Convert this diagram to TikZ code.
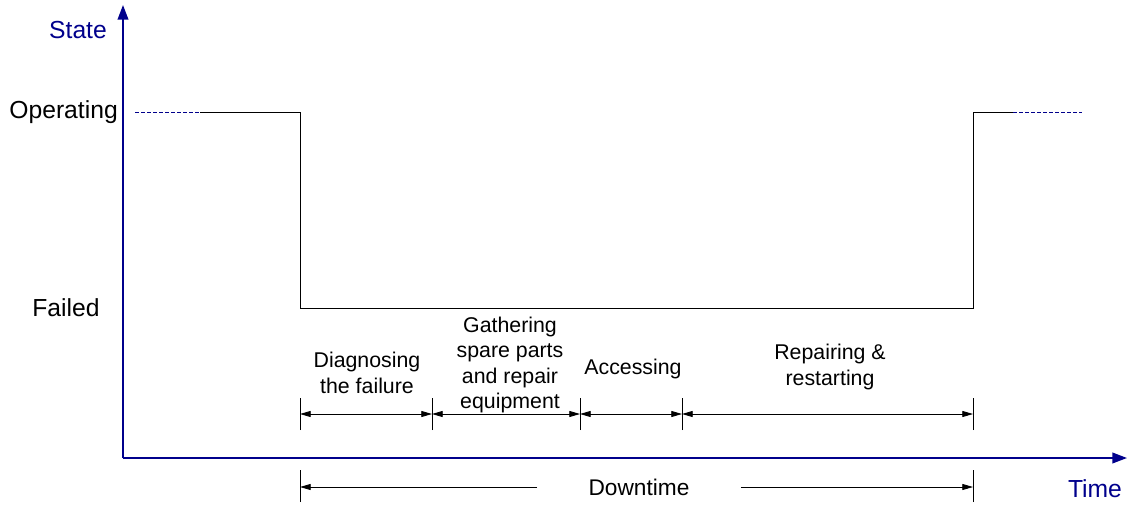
\documentclass[tikz,border=0pt]{standalone}
\usepackage{fontspec}
\setmainfont{Liberation Sans}
\usetikzlibrary{positioning, arrows.meta}
\definecolor{axisblue}{RGB}{0,0,140}

\begin{document}
\begin{tikzpicture}[x=0.75pt,y=0.75pt,font=\fontsize{16}{19}\selectfont,
  axis/.style={draw=axisblue,line width=1.3pt,-{Triangle[length=11pt,width=8pt]}},
  axlbl/.style={text=axisblue,font=\fontsize{18.5}{22}\selectfont,inner sep=0pt},
  lvl/.style={font=\fontsize{18.5}{22}\selectfont,inner sep=0pt},
  stage/.style={align=center,inner sep=0pt},
  tick/.style={draw=black,line width=0.6pt},
  dim/.style={draw=black,line width=0.6pt,{Triangle[length=8pt,width=4.5pt]}-{Triangle[length=8pt,width=4.5pt]}},
  half/.style={draw=black,line width=0.6pt,-{Triangle[length=8pt,width=4.5pt]}},
  ext/.style={draw=axisblue,line width=0.6pt,dash pattern=on 3pt off 1.5pt}]
  \useasboundingbox (0,0) rectangle (1127,504);
  % axes
  \coordinate (o) at (123,46);
  \draw[axis] (o) -- (123,499);
  \draw[axis] (o) -- (1127,46);
  \node[axlbl] (state) at (78,474) {State};
  \node[axlbl] (time) at (1095,15) {Time};
  \node[lvl,anchor=east] (op) at (118,392) {Operating};
  \node[lvl] (fail) at (66,196) {Failed};
  % state curve
  \coordinate (a0) at (135,392);
  \coordinate (a1) at (200,392);
  \coordinate (t1) at (300,392);
  \coordinate (t5) at (973,392);
  \coordinate (b1) at (1013,392);
  \coordinate (b0) at (1082,392);
  \draw[ext] (a0) -- (a1);
  \draw[line width=0.6pt] (a1) -- (t1) -- (300,196) -- (973,196) -- (t5) -- (b1);
  \draw[ext] (b1) -- (b0);
  % phases
  \foreach \n/\x in {1/300,2/432,3/580,4/682,5/973} {
    \coordinate (p\n) at (\x,90);
    \draw[tick] (\x,74) -- (\x,106);
  }
  \draw[dim] (p1) -- (p2);
  \draw[dim] (p2) -- (p3);
  \draw[dim] (p3) -- (p4);
  \draw[dim] (p4) -- (p5);
  \node[stage] (diag) at (367,131) {Diagnosing\\the failure};
  \node[stage] (gath) at (510,139) {Gathering\\spare parts\\and repair\\equipment};
  \node[stage] (acc) at (633,135) {Accessing};
  \node[stage] (rep) at (830,137) {Repairing \&\\restarting};
  % downtime
  \draw[tick] (300,2) -- (300,34);
  \draw[tick] (973,2) -- (973,34);
  \node[font=\fontsize{17}{20}\selectfont,inner ysep=0pt,inner xsep=38.5pt] (dt) at (639,17) {Downtime};
  \draw[half] (dt.west) -- (300,17);
  \draw[half] (dt.east) -- (973,17);
\end{tikzpicture}
\end{document}
